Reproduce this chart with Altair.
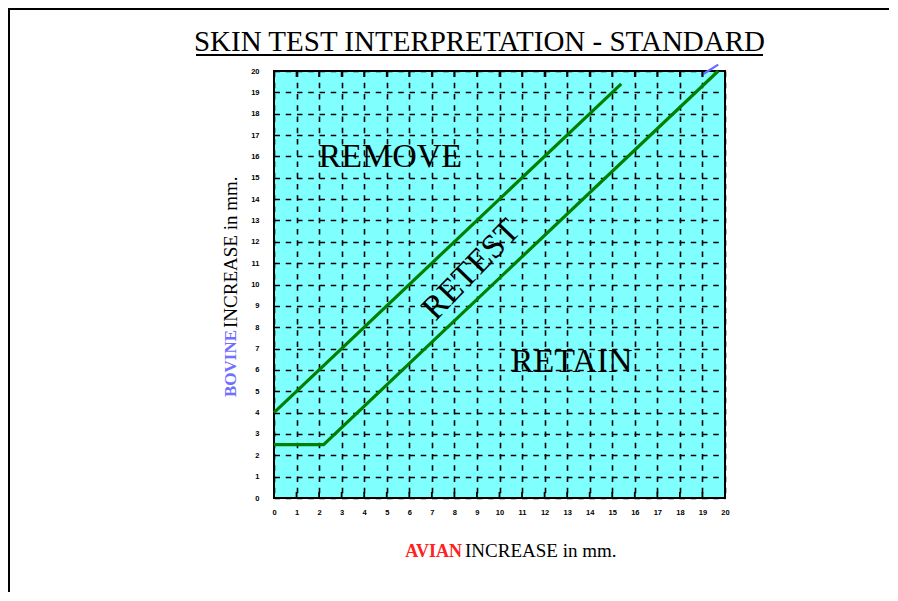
import altair as alt
import pandas as pd

# ---- data ----
ticks = list(range(0, 21))
upper_x = [0, 15.4]
upper_y = [4, 19.4]
lower_x = [0, 2.2, 19.7]
lower_y = [2.5, 2.5, 20]
stub_x = [18.95, 19.7]
stub_y = [19.8, 20.3]
region_names = ["REMOVE", "RETEST", "RETAIN"]
region_x = [5.16, 8.76, 13.2]
region_y = [15.97, 10.68, 6.37]
region_angle = [0, 314, 0]

title_text = "SKIN TEST INTERPRETATION - STANDARD"

W, H = 451, 427
PL, PT, PR, PB = 266, 63, 164, 94
SERIF = "Liberation Serif"

lines_df = pd.DataFrame(
    {"x": upper_x + lower_x, "y": upper_y + lower_y,
     "series": ["upper"] * len(upper_x) + ["lower"] * len(lower_x)}
)
stub_df = pd.DataFrame({"x": stub_x, "y": stub_y})
regions_df = pd.DataFrame({"name": region_names, "x": region_x, "y": region_y, "angle": region_angle})
ticks_df = pd.DataFrame({"t": ticks})

xscale = alt.Scale(domain=[0, 20], nice=False, zero=False)
yscale = alt.Scale(domain=[0, 20], nice=False, zero=False)

grid_axis = dict(
    values=ticks, title=None, grid=True, gridDash=[5.5, 5.75], gridColor="black",
    gridWidth=1.6, gridOpacity=1, domain=False, ticks=False,
    labelFont="Liberation Sans", labelFontSize=7.5, labelFontWeight="bold",
    labelColor="black", labelFlush=False, labelOverlap=False, tickCount=21,
)
x_axis = alt.Axis(labelPadding=10, **grid_axis)
y_axis = alt.Axis(labelPadding=15, **grid_axis)


def X(field):
    return alt.X(field, scale=xscale, axis=x_axis)


def Y(field):
    return alt.Y(field, scale=yscale, axis=y_axis)


lines = alt.Chart(lines_df).mark_line(color="#008000", strokeWidth=3.2, clip=False).encode(
    x=X("x:Q"), y=Y("y:Q"), detail="series:N",
)

stub = alt.Chart(stub_df).mark_line(color="#6a6aff", strokeWidth=2.2, clip=False).encode(
    x=X("x:Q"), y=Y("y:Q")
)

regions = alt.Chart(regions_df).mark_text(
    font=SERIF, fontSize=34, color="black", baseline="middle", align="center"
).encode(
    x=X("x:Q"), y=Y("y:Q"),
    text="name:N", angle=alt.Angle("angle:Q", scale=None),
)

tick_bottom = alt.Chart(ticks_df).mark_rule(color="black", strokeWidth=1.8).encode(
    x=X("t:Q"), y=alt.value(H), y2=alt.value(H - 6)
)
tick_top = alt.Chart(ticks_df).mark_rule(color="black", strokeWidth=1.8).encode(
    x=X("t:Q"), y=alt.value(0), y2=alt.value(6)
)

# title with underline
title = alt.Chart(pd.DataFrame({"t": [title_text]})).mark_text(
    font=SERIF, fontSize=29, color="black", align="center", baseline="alphabetic"
).encode(text="t:N", x=alt.value(205.5), y=alt.value(-20))
underline = alt.Chart(pd.DataFrame({"a": [0]})).mark_rule(color="black", strokeWidth=2).encode(
    x=alt.value(-78), x2=alt.value(489), y=alt.value(-16)
)

# axis titles (two colours each)
xt1 = alt.Chart(pd.DataFrame({"t": ["AVIAN"]})).mark_text(
    font=SERIF, fontSize=18, fontWeight="bold", color="#ff2020", align="right", baseline="alphabetic"
).encode(text="t:N", x=alt.value(188), y=alt.value(486))
xt2 = alt.Chart(pd.DataFrame({"t": ["INCREASE in mm."]})).mark_text(
    font=SERIF, fontSize=19, color="black", align="left", baseline="alphabetic"
).encode(text="t:N", x=alt.value(191), y=alt.value(486))
yt1 = alt.Chart(pd.DataFrame({"t": ["BOVINE"]})).mark_text(
    font=SERIF, fontSize=17, fontWeight="bold", color="#7070ff", align="right", baseline="middle", angle=270
).encode(text="t:N", x=alt.value(-43), y=alt.value(259))
yt2 = alt.Chart(pd.DataFrame({"t": ["INCREASE in mm."]})).mark_text(
    font=SERIF, fontSize=19, color="black", align="left", baseline="middle", angle=270
).encode(text="t:N", x=alt.value(-43), y=alt.value(257))

# page frame (top and left lines)
frame_top = alt.Chart(pd.DataFrame({"a": [0]})).mark_rule(color="black", strokeWidth=2).encode(
    x=alt.value(-PL), x2=alt.value(W + PR), y=alt.value(-PT + 1)
)
frame_left = alt.Chart(pd.DataFrame({"a": [0]})).mark_rule(color="black", strokeWidth=2).encode(
    x=alt.value(-PL + 1), y=alt.value(-PT), y2=alt.value(H + PB)
)

chart = alt.layer(
    lines, stub, regions, tick_bottom, tick_top, title, underline, xt1, xt2, yt1, yt2,
    frame_top, frame_left,
).properties(
    width=W, height=H,
    autosize=alt.AutoSizeParams(type="none"),
    padding={"left": PL, "top": PT, "right": PR, "bottom": PB},
    background="white",
).configure_view(
    fill="#80FFFF", stroke="black", strokeWidth=2
)

chart.save("out.html", embed_options={"renderer": "svg", "actions": False})
